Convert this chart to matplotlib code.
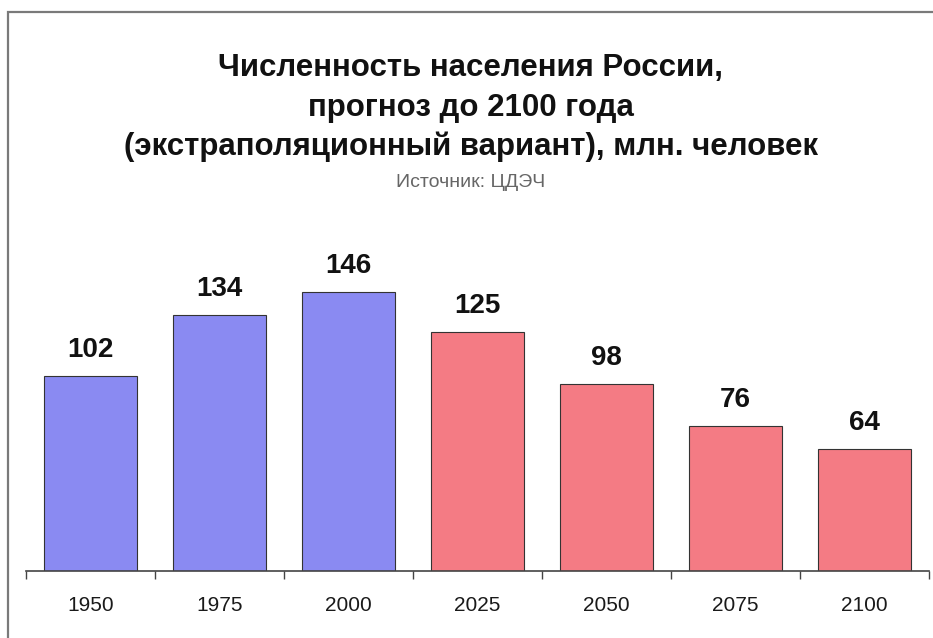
import matplotlib
matplotlib.use("Agg")
import matplotlib.pyplot as plt
from matplotlib.patches import Rectangle

years = ["1950", "1975", "2000", "2025", "2050", "2075", "2100"]
values = [102, 134, 146, 125, 98, 76, 64]
is_forecast = [False, False, False, True, True, True, True]

BLUE = "#8a8af2"
RED = "#f47b84"

W, H = 933, 638
fig = plt.figure(figsize=(W / 100, H / 100), dpi=100)
fig.patch.set_facecolor("white")

# frame of the picture
fig.patches.append(Rectangle((8 / W, -0.05), 1.1, (H - 12) / H + 0.05,
                             transform=fig.transFigure, fill=False,
                             edgecolor="#7a7a7a", linewidth=1.6))

ax_left, ax_right = 26 / W, 929 / W
ax_bottom, ax_top = (H - 571) / H, (H - 200) / H
ax = fig.add_axes([ax_left, ax_bottom, ax_right - ax_left, ax_top - ax_bottom])
ax.set_facecolor("none")

x = list(range(len(years)))
colors = [RED if f else BLUE for f in is_forecast]
bars = ax.bar(x, values, width=0.72, color=colors, edgecolor="#333333", linewidth=0.8)

for xi, v in zip(x, values):
    ax.text(xi, v + 13.5, str(v), ha="center", va="center", fontsize=20,
            fontweight="bold", family="Liberation Sans", color="#111111")

ax.set_xlim(-0.5, len(years) - 0.5)
ax.set_ylim(0, 194)
ax.set_yticks([])
for s in ["left", "right", "top"]:
    ax.spines[s].set_visible(False)
ax.spines["bottom"].set_color("#444444")
ax.spines["bottom"].set_linewidth(1.2)

ax.set_xticks([i - 0.5 for i in range(len(years) + 1)], minor=False)
ax.set_xticklabels([])
ax.tick_params(axis="x", which="major", direction="out", length=6, color="#444444", width=1)
ax.set_xticks(x, minor=True)
ax.set_xticklabels(years, minor=True, fontsize=15, family="Liberation Sans", color="#1a1a1a")
ax.tick_params(axis="x", which="minor", length=0, pad=18)

cx = 471 / W
title_kw = dict(ha="center", va="center", fontsize=22.5, fontweight="bold",
                family="Liberation Sans", color="#111111")
fig.text(cx, 1 - 68 / H, "Численность населения России,", **title_kw)
fig.text(cx, 1 - 108 / H, "прогноз до 2100 года", **title_kw)
fig.text(cx, 1 - 147 / H, "(экстраполяционный вариант), млн. человек", **title_kw)
fig.text(cx, 1 - 182 / H, "Источник: ЦДЭЧ", ha="center", va="center",
         fontsize=14, family="Liberation Sans", color="#666666")

fig.savefig("out.png", dpi=100, facecolor="white")
